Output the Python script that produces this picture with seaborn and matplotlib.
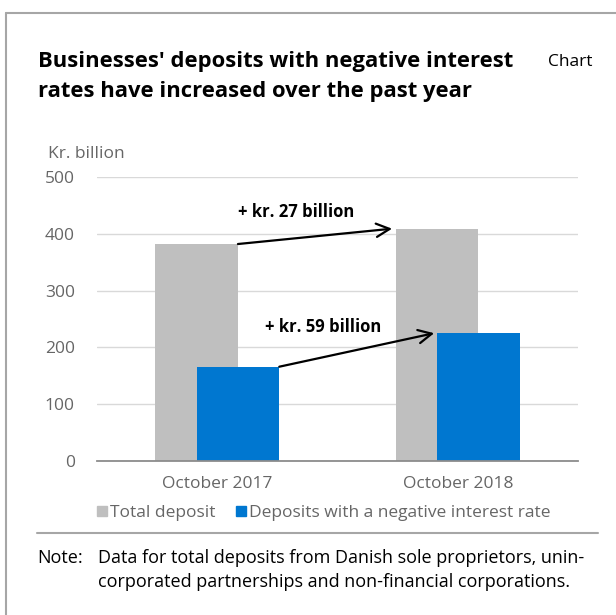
import matplotlib
matplotlib.use("Agg")
import matplotlib.pyplot as plt
from matplotlib.lines import Line2D
from matplotlib.patches import Rectangle
import seaborn as sns
import pandas as pd

categories = ["October 2017", "October 2018"]
total_deposit = [382, 409]
negative_rate = [166, 225]
series_names = ["Total deposit", "Deposits with a negative interest rate"]
yticks = [0, 100, 200, 300, 400, 500]
annotations = ["+ kr. 27 billion", "+ kr. 59 billion"]

GRAY = "#bfbfbf"
BLUE = "#0077d0"
TXT = "#666666"

sns.set_theme(style="white")
plt.rcParams["font.family"] = ["Open Sans", "DejaVu Sans"]

fig = plt.figure(figsize=(6.16, 6.15), dpi=100)
ax = fig.add_axes([97/616, 1-461/615, (578-97)/616, (461-177)/615])

offset = 0.086
bw = 0.344
pos = list(range(len(categories)))
df_tot = pd.DataFrame({"x": [p - offset for p in pos], "y": total_deposit})
df_neg = pd.DataFrame({"x": [p + offset for p in pos], "y": negative_rate})

sns.barplot(data=df_tot, x="x", y="y", native_scale=True, width=bw,
            color=GRAY, saturation=1, ax=ax, zorder=2, linewidth=0)
sns.barplot(data=df_neg, x="x", y="y", native_scale=True, width=bw,
            color=BLUE, saturation=1, ax=ax, zorder=3, linewidth=0)

ax.set_xlim(-0.5, 1.5)
ax.set_ylim(0, 500)
ax.set_xticks(pos)
ax.set_xticklabels(categories)
ax.set_yticks(yticks)
ax.set_xlabel("")
ax.set_ylabel("")
ax.tick_params(axis="both", length=0, labelsize=12.5, colors=TXT)
ax.tick_params(axis="y", pad=16)
ax.tick_params(axis="x", pad=11)
ax.yaxis.grid(True, color="#d9d9d9", linewidth=1)
ax.set_axisbelow(True)
for s in ["top", "right", "left"]:
    ax.spines[s].set_visible(False)
ax.spines["bottom"].set_color("#8c8c8c")
ax.spines["bottom"].set_linewidth(1.3)
ax.spines["bottom"].set_zorder(4)

# arrows
ax.annotate("", xy=(1 - offset - bw/2 - 0.015, total_deposit[1]),
            xytext=(0 - offset + bw/2, total_deposit[0]),
            arrowprops=dict(arrowstyle="->", color="black", lw=1.6,
                            mutation_scale=24, shrinkA=0, shrinkB=0), zorder=5)
ax.annotate("", xy=(1 + offset - bw/2 - 0.012, negative_rate[1]),
            xytext=(0 + offset + bw/2, negative_rate[0]),
            arrowprops=dict(arrowstyle="->", color="black", lw=1.6,
                            mutation_scale=24, shrinkA=0, shrinkB=0), zorder=5)
ax.text(0.33, 438, annotations[0], ha="center", va="center",
        fontsize=12, fontweight="bold", color="black")
ax.text(0.44, 236, annotations[1], ha="center", va="center",
        fontsize=12, fontweight="bold", color="black")

# frame lines
fig.add_artist(Line2D([6/616, 6/616], [0, 1-13/615], color="#a6a6a6", lw=1.5,
                      transform=fig.transFigure))
fig.add_artist(Line2D([6/616, 1], [1-13/615, 1-13/615], color="#a6a6a6", lw=1.5,
                      transform=fig.transFigure))

# title
fig.text(38/616, 1-61/615, "Businesses' deposits with negative interest",
         fontsize=15.8, fontweight="bold", color="black", va="center", ha="left")
fig.text(38/616, 1-91/615, "rates have increased over the past year",
         fontsize=15.8, fontweight="bold", color="black", va="center", ha="left")
fig.text(548/616, 1-62/615, "Chart", fontsize=12.5, color="black",
         va="center", ha="left")
fig.text(48/616, 1-154/615, "Kr. billion", fontsize=12.5, color=TXT,
         va="center", ha="left")

# legend
handles = [Rectangle((0, 0), 1, 1, color=GRAY), Rectangle((0, 0), 1, 1, color=BLUE)]
fig.legend(handles, series_names, loc="center left",
           bbox_to_anchor=(97/616, 1-513/615), ncol=2, frameon=False,
           fontsize=12.5, labelcolor=TXT, handlelength=0.55, handleheight=0.55,
           handletextpad=0.2, columnspacing=1.2, borderaxespad=0, borderpad=0)

# separator
fig.add_artist(Line2D([37/616, 598/616], [1-533/615, 1-533/615], color="#a6a6a6",
                      lw=1.5, transform=fig.transFigure))

fig.text(37/616, 1-558/615, "Note:", fontsize=13, color="black", va="center")
fig.text(98/616, 1-558/615, "Data for total deposits from Danish sole proprietors, unin-",
         fontsize=13, color="black", va="center")
fig.text(98/616, 1-582/615, "corporated partnerships and non-financial corporations.",
         fontsize=13, color="black", va="center")

fig.savefig("out.png", dpi=100)
